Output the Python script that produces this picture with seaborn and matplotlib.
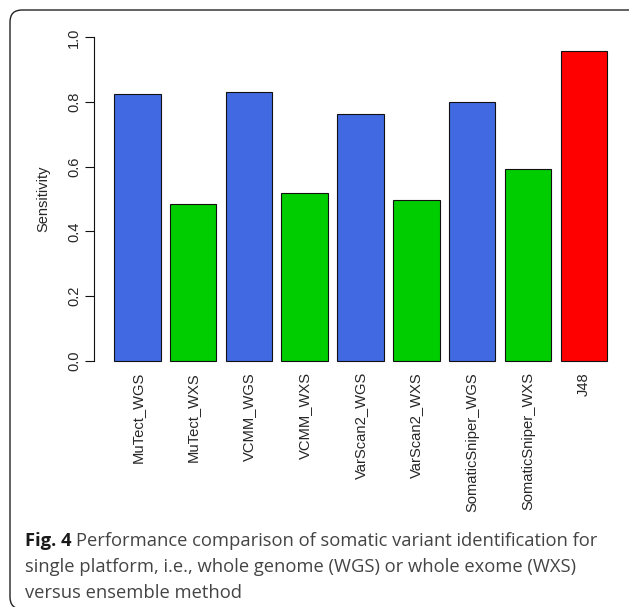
import matplotlib
matplotlib.use("Agg")
import matplotlib.pyplot as plt
import seaborn as sns
import pandas as pd
from matplotlib.patches import FancyBboxPatch

# values
methods = ["MuTect_WGS", "MuTect_WXS", "VCMM_WGS", "VCMM_WXS", "VarScan2_WGS",
           "VarScan2_WXS", "SomaticSniper_WGS", "SomaticSniper_WXS", "J48"]
sensitivity = [0.825, 0.485, 0.831, 0.520, 0.762, 0.497, 0.800, 0.593, 0.957]
platform = ["WGS", "WXS", "WGS", "WXS", "WGS", "WXS", "WGS", "WXS", "Ensemble"]
colours = {"WGS": "#4169E1", "WXS": "#00CD00", "Ensemble": "#FF0000"}
yticks = [0.0, 0.2, 0.4, 0.6, 0.8, 1.0]

sns.set_theme(style="white", rc={"axes.linewidth": 0.8})
plt.rcParams["font.family"] = ["Liberation Sans", "DejaVu Sans"]

df = pd.DataFrame({"method": methods, "sensitivity": sensitivity, "platform": platform})

fig = plt.figure(figsize=(6.29, 6.07), dpi=100)
ax = fig.add_axes([0.150, 0.3845, 0.8464, 0.5753])

sns.barplot(data=df, x="method", y="sensitivity", hue="platform", palette=colours,
            dodge=False, width=1 / 1.2, saturation=1, edgecolor="#111111",
            linewidth=0.8, legend=False, ax=ax)

# R style barplot axes
ax.set_xlim(-0.77, 8.77)
ax.set_ylim(-0.04, 1.04)
for s in ["top", "right", "bottom"]:
    ax.spines[s].set_visible(False)
ax.spines["left"].set_bounds(0, 1)
ax.spines["left"].set_color("#111111")

ax.set_yticks(yticks)
ax.set_yticklabels([f"{v:.1f}" for v in yticks], rotation=90, va="center")
ax.tick_params(axis="y", length=6.5, width=0.8, direction="out", pad=3,
               labelsize=10.5, color="#111111", left=True)
ax.tick_params(axis="x", length=0, pad=-1, labelsize=10.6)
ax.set_xticks(range(len(methods)))
ax.set_xticklabels(methods, rotation=90)
ax.set_xlabel("")
ax.set_ylabel("Sensitivity", fontsize=10.5)
ax.yaxis.label.set_va("center")
ax.yaxis.set_label_coords(-0.0964, 0.5)

# rounded frame round the figure
frame = FancyBboxPatch((0.10, -0.02), 6.35, 5.99,
                       boxstyle="round,pad=0,rounding_size=0.12",
                       transform=fig.dpi_scale_trans, fill=False,
                       edgecolor="#222222", linewidth=1.0)
fig.add_artist(frame)

# caption
cap_font = ["Open Sans", "DejaVu Sans"]
cap_size = 13.2
t1 = fig.text(25 / 629, 0.1005, "Fig. 4", fontsize=cap_size, family=cap_font,
              weight="bold", color="#1a1a1a", va="baseline")
renderer = fig.canvas.get_renderer()
bb = t1.get_window_extent(renderer)
fig.text((bb.x1 + 5) / fig.bbox.width, 0.1005,
         "Performance comparison of somatic variant identification for",
         fontsize=cap_size, family=cap_font, color="#444444", va="baseline")
fig.text(25 / 629, 0.0577,
         "single platform, i.e., whole genome (WGS) or whole exome (WXS)",
         fontsize=cap_size, family=cap_font, color="#444444", va="baseline")
fig.text(25 / 629, 0.0148, "versus ensemble method",
         fontsize=cap_size, family=cap_font, color="#444444", va="baseline")

fig.savefig("out.png", dpi=100)
